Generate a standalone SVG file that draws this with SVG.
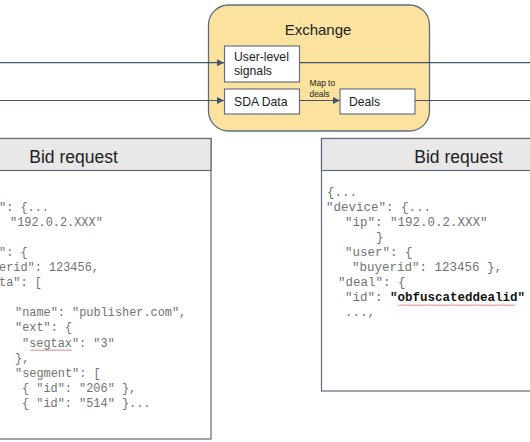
<svg xmlns="http://www.w3.org/2000/svg" width="530" height="442" viewBox="0 0 530 442">
<defs>
<style>
.frame{fill:#ffffff;stroke:#5f6b7a;stroke-width:1.2}
.hdr{fill:#e8e8e8;stroke:#5f6b7a;stroke-width:1.2}
.exch{fill:#fbe29f;stroke:#5f6b7a;stroke-width:1.3}
.inner{fill:#ffffff;stroke:#5f6b7a;stroke-width:1.1}
.conn{fill:none;stroke:#44566e;stroke-width:1.2}
.sans{font-family:"Liberation Sans",Arial,sans-serif;fill:#222222}
.title{font-size:17.5px;text-anchor:middle}
.lbl{font-size:12.2px}
.small{font-size:8.4px}
.code{font-family:"Liberation Mono","Courier New",monospace;fill:#737373;white-space:pre}
.cl{font-size:11.9px}
.cr{font-size:12.5px}
.bold{font-weight:bold;fill:#111111}
.squig{fill:none;stroke:#e06060;stroke-width:0.8}
</style>
<marker id="arr" viewBox="0 0 10 10" refX="10" refY="5" markerWidth="8" markerHeight="7" markerUnits="userSpaceOnUse" orient="auto">
<path d="M0,0 L10,5 L0,10 Z" fill="#44566e"/>
</marker>
</defs>

<g id="exchange">
<rect class="exch" x="208.5" y="5" width="221" height="126" rx="20" ry="20"/>
<text class="sans" x="318" y="35" font-size="15" text-anchor="middle">Exchange</text>
</g>

<g id="user-level-signals">
<rect class="inner" x="224.5" y="46" width="75" height="36"/>
<text class="sans lbl" x="234" y="61">User-level</text>
<text class="sans lbl" x="234" y="75">signals</text>
</g>

<g id="sda-data">
<rect class="inner" x="224.5" y="89" width="75" height="25"/>
<text class="sans lbl" x="234" y="105.5">SDA Data</text>
</g>

<g id="deals">
<rect class="inner" x="340" y="89" width="75" height="25"/>
<text class="sans lbl" x="349" y="105.5">Deals</text>
</g>

<g id="connectors">
<line class="conn" x1="0" y1="62.7" x2="224" y2="62.7" marker-end="url(#arr)"/>
<line class="conn" x1="299.5" y1="62.7" x2="530" y2="62.7"/>
<line class="conn" x1="0" y1="100.5" x2="224" y2="100.5" marker-end="url(#arr)"/>
<line class="conn" x1="299.5" y1="100.5" x2="340" y2="100.5" marker-end="url(#arr)"/>
<line class="conn" x1="415" y1="100.5" x2="530" y2="100.5"/>
<text class="sans small" x="309.5" y="86">Map to</text>
<text class="sans small" x="309.5" y="97">deals</text>
</g>

<g id="bid-request-left">
<rect class="frame" x="-64" y="138.5" width="275" height="300.5"/>
<rect class="hdr" x="-64" y="138.5" width="275" height="32"/>
<text class="sans title" x="73.5" y="163">Bid request</text>
<text class="code cl" x="-1" y="210.6">": {...</text>
<text class="code cl" x="10" y="225.7">"192.0.2.XXX"</text>
<text class="code cl" x="-1" y="255.9">": {</text>
<text class="code cl" x="-1" y="271">erid": 123456,</text>
<text class="code cl" x="-1" y="286.1">ta": [</text>
<text class="code cl" x="15" y="316.3">"name": "publisher.com",</text>
<text class="code cl" x="15" y="331.4">"ext": {</text>
<text class="code cl" x="22" y="346.5">"segtax": "3"</text>
<path class="squig" d="M30,349.5 l1.5,1.5 l1.5,-1.5 l1.5,1.5 l1.5,-1.5 l1.5,1.5 l1.5,-1.5 l1.5,1.5 l1.5,-1.5 l1.5,1.5 l1.5,-1.5 l1.5,1.5 l1.5,-1.5 l1.5,1.5 l1.5,-1.5 l1.5,1.5 l1.5,-1.5 l1.5,1.5 l1.5,-1.5 l1.5,1.5 l1.5,-1.5 l1.5,1.5 l1.5,-1.5 l1.5,1.5 l1.5,-1.5 l1.5,1.5 l1.5,-1.5 l1.5,1.5 l1.5,-1.5"/>
<text class="code cl" x="15" y="361.6">},</text>
<text class="code cl" x="15" y="376.7">"segment": [</text>
<text class="code cl" x="22" y="391.8">{ "id": "206" },</text>
<text class="code cl" x="22" y="406.9">{ "id": "514" }...</text>
</g>

<g id="bid-request-right">
<rect class="frame" x="321.5" y="138.5" width="275" height="252.5"/>
<rect class="hdr" x="321.5" y="138.5" width="275" height="32"/>
<text class="sans title" x="458.5" y="163">Bid request</text>
<text class="code cr" x="327" y="195.5">{...</text>
<text class="code cr" x="326" y="210.6">"device": {...</text>
<text class="code cr" x="345" y="225.7">"ip": "192.0.2.XXX"</text>
<text class="code cr" x="376" y="240.8">}</text>
<text class="code cr" x="345" y="255.9">"user": {</text>
<text class="code cr" x="352" y="271">"buyerid": 123456 },</text>
<text class="code cr" x="338" y="286.1">"deal": {</text>
<text class="code cr" x="345" y="301.2">"id": <tspan class="bold">"obfuscateddealid"</tspan></text>
<path class="squig" d="M398,304.5 l1.5,1.5 l1.5,-1.5 l1.5,1.5 l1.5,-1.5 l1.5,1.5 l1.5,-1.5 l1.5,1.5 l1.5,-1.5 l1.5,1.5 l1.5,-1.5 l1.5,1.5 l1.5,-1.5 l1.5,1.5 l1.5,-1.5 l1.5,1.5 l1.5,-1.5 l1.5,1.5 l1.5,-1.5 l1.5,1.5 l1.5,-1.5 l1.5,1.5 l1.5,-1.5 l1.5,1.5 l1.5,-1.5 l1.5,1.5 l1.5,-1.5 l1.5,1.5 l1.5,-1.5 l1.5,1.5 l1.5,-1.5 l1.5,1.5 l1.5,-1.5 l1.5,1.5 l1.5,-1.5 l1.5,1.5 l1.5,-1.5 l1.5,1.5 l1.5,-1.5 l1.5,1.5 l1.5,-1.5 l1.5,1.5 l1.5,-1.5 l1.5,1.5 l1.5,-1.5 l1.5,1.5 l1.5,-1.5 l1.5,1.5 l1.5,-1.5 l1.5,1.5 l1.5,-1.5 l1.5,1.5 l1.5,-1.5 l1.5,1.5 l1.5,-1.5 l1.5,1.5 l1.5,-1.5 l1.5,1.5 l1.5,-1.5 l1.5,1.5 l1.5,-1.5 l1.5,1.5 l1.5,-1.5 l1.5,1.5 l1.5,-1.5 l1.5,1.5 l1.5,-1.5 l1.5,1.5 l1.5,-1.5 l1.5,1.5 l1.5,-1.5 l1.5,1.5 l1.5,-1.5 l1.5,1.5 l1.5,-1.5 l1.5,1.5 l1.5,-1.5 l1.5,1.5 l1.5,-1.5"/>
<text class="code cr" x="345" y="316.3">...,</text>
</g>
</svg>
